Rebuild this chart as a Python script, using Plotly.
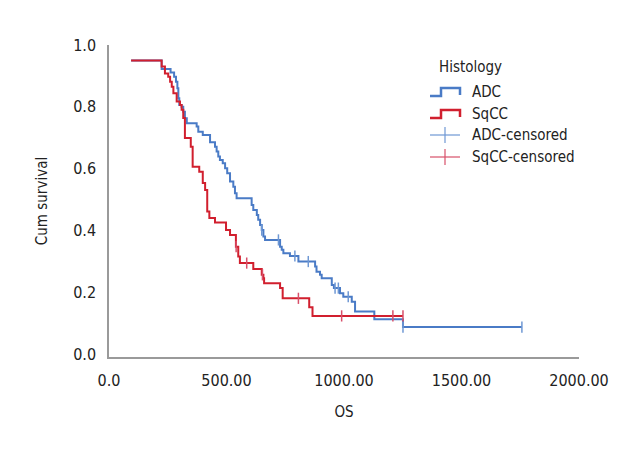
import plotly.graph_objects as go

# ---- data ----
adc_time = [94, 224, 262, 277, 285, 291, 295, 299, 309, 316, 323, 331, 373, 380, 399, 430, 451, 458, 465, 472,
            484, 494, 503, 515, 529, 536, 543, 607, 614, 629, 635, 643, 650, 657, 664, 728, 735, 742, 770, 806,
            877, 883, 898, 905, 948, 957, 983, 997, 1033, 1047, 1129, 1251, 1757]
adc_surv = [0.95, 0.922, 0.911, 0.897, 0.881, 0.860, 0.828, 0.806, 0.800, 0.784, 0.763, 0.747, 0.736, 0.719, 0.709,
            0.685, 0.671, 0.655, 0.639, 0.628, 0.617, 0.601, 0.585, 0.558, 0.541, 0.520, 0.504, 0.482, 0.466, 0.450,
            0.434, 0.417, 0.401, 0.380, 0.369, 0.347, 0.337, 0.326, 0.317, 0.299, 0.283, 0.266, 0.256, 0.245, 0.223,
            0.213, 0.196, 0.185, 0.169, 0.137, 0.112, 0.087, 0.087]

sqcc_time = [94, 224, 238, 252, 260, 267, 274, 288, 302, 309, 316, 323, 348, 356, 384, 399, 409, 418, 427, 451,
             498, 515, 540, 550, 557, 614, 650, 657, 660, 728, 739, 852, 866, 1251]
sqcc_surv = [0.95, 0.930, 0.908, 0.897, 0.881, 0.865, 0.844, 0.817, 0.806, 0.790, 0.764, 0.699, 0.671, 0.606, 0.590,
             0.553, 0.531, 0.461, 0.440, 0.425, 0.401, 0.385, 0.347, 0.315, 0.294, 0.275, 0.256, 0.245, 0.229, 0.213,
             0.180, 0.151, 0.123, 0.123]

adc_cens_time = [650, 721, 791, 848, 962, 976, 1018, 1251, 1757]
adc_cens_surv = [0.401, 0.369, 0.317, 0.299, 0.213, 0.213, 0.185, 0.087, 0.087]

sqcc_cens_time = [541, 586, 653, 806, 990, 1208, 1251]
sqcc_cens_surv = [0.347, 0.294, 0.256, 0.180, 0.123, 0.123, 0.123]

x_ticks = [0, 500, 1000, 1500, 2000]
x_tick_labels = ["0.0", "500.00", "1000.00", "1500.00", "2000.00"]
y_ticks = [0.0, 0.2, 0.4, 0.6, 0.8, 1.0]
y_tick_labels = ["0.0", "0.2", "0.4", "0.6", "0.8", "1.0"]

legend_title = "Histology"
legend_labels = ["ADC", "SqCC", "ADC-censored", "SqCC-censored"]

# ---- styles ----
BLUE = "#4a7bc6"
RED = "#d11f2e"
BLUE_L = "#6f98d4"
RED_L = "#d8506a"
FONT = "DejaVu Sans Condensed, Liberation Sans Narrow, Arial Narrow, sans-serif"
FS = 15

fig = go.Figure()
fig.add_trace(go.Scatter(x=adc_time, y=adc_surv, mode="lines", line=dict(color=BLUE, width=2, shape="hv"),
                         name=legend_labels[0], showlegend=False))
fig.add_trace(go.Scatter(x=adc_cens_time, y=adc_cens_surv, mode="markers",
                         marker=dict(symbol="line-ns", size=8, line=dict(color=BLUE_L, width=1.5)),
                         name=legend_labels[2], showlegend=False))
fig.add_trace(go.Scatter(x=sqcc_time, y=sqcc_surv, mode="lines", line=dict(color=RED, width=2, shape="hv"),
                         name=legend_labels[1], showlegend=False))
fig.add_trace(go.Scatter(x=sqcc_cens_time, y=sqcc_cens_surv, mode="markers",
                         marker=dict(symbol="line-ns", size=8, line=dict(color=RED_L, width=1.5)),
                         name=legend_labels[3], showlegend=False))

# target plot area on screen: x 109..579, y 45..357 ; page body adds an 8px offset
OFF = 8
L, R, T, B = 109 - OFF, 579 - OFF, 45 - OFF, 357 - OFF
W, H = R - L, B - T


def px(x):
    return (x - OFF - L) / W


def py(y):
    return (B - (y - OFF)) / H


shapes = []
annotations = []
annotations.append(dict(x=px(437), y=py(67), xref="paper", yref="paper", text=legend_title, showarrow=False,
                        xanchor="left", yanchor="middle", font=dict(family=FONT, size=FS, color="#222")))
rows = [92, 114, 135, 157]
for i, (lab, yy) in enumerate(zip(legend_labels, rows)):
    annotations.append(dict(x=px(470), y=py(yy), xref="paper", yref="paper", text=lab, showarrow=False,
                            xanchor="left", yanchor="middle", font=dict(family=FONT, size=FS, color="#222")))
    if i < 2:
        col = BLUE if i == 0 else RED
        path = "M {} {} L {} {} L {} {} L {} {} L {} {}".format(
            px(430), py(yy + 4), px(441), py(yy + 4), px(441), py(yy - 4), px(460), py(yy - 4), px(460), py(yy + 3))
        shapes.append(dict(type="path", path=path, xref="paper", yref="paper", line=dict(color=col, width=2.5)))
    else:
        col = BLUE_L if i == 2 else RED_L
        shapes.append(dict(type="line", xref="paper", yref="paper", x0=px(430), x1=px(460), y0=py(yy), y1=py(yy),
                           line=dict(color=col, width=1.2)))
        shapes.append(dict(type="line", xref="paper", yref="paper", x0=px(445), x1=px(445), y0=py(yy - 8),
                           y1=py(yy + 8), line=dict(color=col, width=1.2)))

fig.update_layout(
    width=640, height=460,
    margin=dict(l=L, r=640 - R, t=T, b=460 - B, autoexpand=False),
    paper_bgcolor="white", plot_bgcolor="white",
    font=dict(family=FONT, size=FS, color="#222"),
    shapes=shapes, annotations=annotations,
    showlegend=False,
)
fig.update_xaxes(range=[0, 2000], tickvals=x_ticks, ticktext=x_tick_labels, showgrid=False, zeroline=False,
                 showline=True, linecolor="#9a9a9a", linewidth=1.5, ticks="", ticklabelstandoff=8, automargin=False,
                 tickfont=dict(size=16),
                 title=dict(text="OS", standoff=18, font=dict(family=FONT, size=FS)))
fig.update_yaxes(range=[-0.01, 1.0], tickvals=y_ticks, ticktext=y_tick_labels, showgrid=False, zeroline=False,
                 showline=True, linecolor="#9a9a9a", linewidth=1.5, ticks="", ticklabelstandoff=8, automargin=False,
                 tickfont=dict(size=16),
                 title=dict(text="Cum survival", standoff=22, font=dict(family=FONT, size=FS)))

fig.write_html("out.html")
